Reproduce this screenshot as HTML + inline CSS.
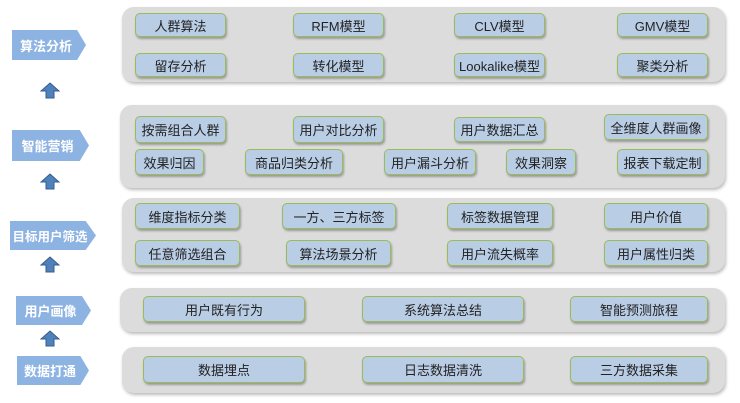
<!DOCTYPE html><html><head><meta charset="utf-8"><style>
body{margin:0;width:740px;height:403px;background:#fff;position:relative;overflow:hidden;font-family:"Liberation Sans","Noto Sans CJK SC",sans-serif}
.p{position:absolute;background:#dcdcdc;border-radius:12px;box-shadow:1px 2px 3px #bbb}
.b{position:absolute;background:#b9cde5;border:1.5px solid #9bbb59;border-radius:5px;box-sizing:border-box;display:flex;align-items:center;justify-content:center;font-size:13px;color:#222;box-shadow:1px 2px 2px #999}
.l{position:absolute;background:#8db3e2;color:#fff;font-weight:bold;font-size:13px;display:flex;align-items:center;justify-content:center;clip-path:polygon(0 0,88% 0,100% 50%,88% 100%,0 100%);padding-right:6px;box-sizing:border-box}
.a{position:absolute;width:20px;height:17px}
</style></head><body>
<div class="p" style="left:122px;top:7px;width:603px;height:75px"></div>
<div class="p" style="left:120px;top:105px;width:605px;height:83px"></div>
<div class="p" style="left:122px;top:198px;width:603px;height:74px"></div>
<div class="p" style="left:120px;top:288px;width:605px;height:44px"></div>
<div class="p" style="left:122px;top:347px;width:603px;height:46px"></div>

<div class="l" style="left:12px;top:30px;width:74px;height:30px">算法分析</div>
<div class="l" style="left:12px;top:130px;width:77px;height:31px">智能营销</div>
<div class="l" style="left:10px;top:221px;width:86px;height:29px;font-size:12.5px">目标用户筛选</div>
<div class="l" style="left:16px;top:296px;width:75px;height:29px">用户画像</div>
<div class="l" style="left:17px;top:356px;width:72px;height:29px">数据打通</div>

<svg class="a" style="left:40px;top:82px" viewBox="0 0 20 17"><polygon points="10,1 19,9 14,9 14,16 6,16 6,9 1,9" fill="#4f81bd" stroke="#385d8a"/></svg>
<svg class="a" style="left:40px;top:173px" viewBox="0 0 20 17"><polygon points="10,1 19,9 14,9 14,16 6,16 6,9 1,9" fill="#4f81bd" stroke="#385d8a"/></svg>
<svg class="a" style="left:40px;top:256px" viewBox="0 0 20 17"><polygon points="10,1 19,9 14,9 14,16 6,16 6,9 1,9" fill="#4f81bd" stroke="#385d8a"/></svg>
<svg class="a" style="left:40px;top:330px" viewBox="0 0 20 17"><polygon points="10,1 19,9 14,9 14,16 6,16 6,9 1,9" fill="#4f81bd" stroke="#385d8a"/></svg>

<div class="b" style="left:135px;top:13px;width:91px;height:24px">人群算法</div>
<div class="b" style="left:293px;top:13px;width:91px;height:24px">RFM模型</div>
<div class="b" style="left:454px;top:13px;width:91px;height:24px">CLV模型</div>
<div class="b" style="left:617px;top:13px;width:91px;height:24px">GMV模型</div>
<div class="b" style="left:135px;top:53px;width:91px;height:24px">留存分析</div>
<div class="b" style="left:293px;top:53px;width:91px;height:24px">转化模型</div>
<div class="b" style="left:454px;top:53px;width:91px;height:24px">Lookalike模型</div>
<div class="b" style="left:617px;top:53px;width:91px;height:24px">聚类分析</div>

<div class="b" style="left:135px;top:116px;width:91px;height:27px">按需组合人群</div>
<div class="b" style="left:293px;top:116px;width:91px;height:27px">用户对比分析</div>
<div class="b" style="left:454px;top:117px;width:91px;height:25px">用户数据汇总</div>
<div class="b" style="left:604px;top:114px;width:104px;height:26px">全维度人群画像</div>
<div class="b" style="left:135px;top:149px;width:69px;height:26px">效果归因</div>
<div class="b" style="left:245px;top:149px;width:98px;height:26px">商品归类分析</div>
<div class="b" style="left:384px;top:149px;width:92px;height:26px">用户漏斗分析</div>
<div class="b" style="left:506px;top:149px;width:70px;height:26px">效果洞察</div>
<div class="b" style="left:617px;top:149px;width:91px;height:26px">报表下载定制</div>

<div class="b" style="left:135px;top:203px;width:105px;height:26px">维度指标分类</div>
<div class="b" style="left:282px;top:203px;width:114px;height:26px">一方、三方标签</div>
<div class="b" style="left:447px;top:203px;width:106px;height:26px">标签数据管理</div>
<div class="b" style="left:604px;top:203px;width:104px;height:26px">用户价值</div>
<div class="b" style="left:135px;top:240px;width:105px;height:26px">任意筛选组合</div>
<div class="b" style="left:286px;top:240px;width:105px;height:26px">算法场景分析</div>
<div class="b" style="left:447px;top:240px;width:106px;height:26px">用户流失概率</div>
<div class="b" style="left:604px;top:240px;width:104px;height:26px">用户属性归类</div>

<div class="b" style="left:143px;top:296px;width:162px;height:26px">用户既有行为</div>
<div class="b" style="left:362px;top:296px;width:162px;height:26px">系统算法总结</div>
<div class="b" style="left:570px;top:296px;width:138px;height:26px">智能预测旅程</div>

<div class="b" style="left:143px;top:356px;width:162px;height:27px">数据埋点</div>
<div class="b" style="left:362px;top:356px;width:162px;height:27px">日志数据清洗</div>
<div class="b" style="left:570px;top:356px;width:138px;height:27px">三方数据采集</div>
</body></html>
